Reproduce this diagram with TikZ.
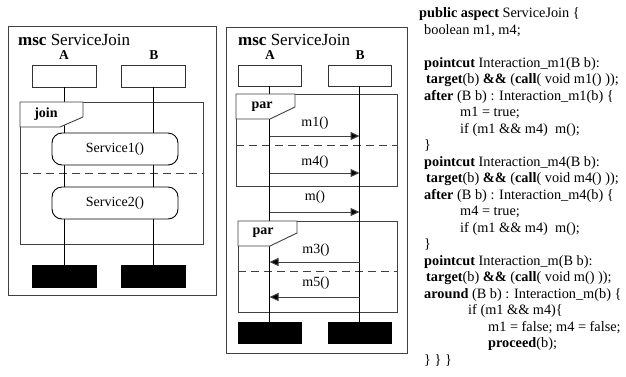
\documentclass[tikz,border=0pt]{standalone}
\usepackage{fontspec}
\setmainfont{Liberation Serif}
\usetikzlibrary{arrows.meta}
\begin{document}
\begin{tikzpicture}[x=1pt,y=-1pt,
  frm/.style={draw=black!75,line width=0.9pt},
  hbox/.style={draw=black!80,line width=0.9pt,fill=white,minimum width=64pt,minimum height=22pt,inner sep=0pt},
  ebox/.style={fill=black,draw=black,minimum width=64pt,minimum height=22pt,inner sep=0pt},
  life/.style={draw=black,line width=0.9pt},
  svc/.style={draw=black,line width=0.9pt,fill=white,rounded corners=10pt,minimum width=126pt,minimum height=32pt,inner sep=0pt,font=\fontsize{14}{16}\selectfont},
  msg/.style={draw=black!75,line width=1pt,-{Triangle[length=9pt,width=8pt,fill=black]}},
  sep/.style={draw=black!75,line width=0.9pt,dash pattern=on 8pt off 5pt},
  tag/.style={draw=black!75,line width=0.9pt,fill=white},
  title/.style={font=\fontsize{17}{20}\selectfont,anchor=west,inner sep=0pt},
  inst/.style={font=\fontsize{13.5}{15}\selectfont\bfseries,inner sep=0pt},
  lbl/.style={font=\fontsize{14}{16}\selectfont,inner sep=0pt},
  code/.style={font=\fontsize{14.3}{16}\selectfont,anchor=base west,inner sep=0pt}]
\useasboundingbox (0,0) rectangle (626,376);
% ---------- left diagram ----------
\draw[frm] (8,26) rectangle (216,295);
\node[title] (t1) at (18,40) {\textbf{msc} ServiceJoin};
\node[inst] (nA1) at (64,55) {A};
\node[inst] (nB1) at (154,55) {B};
\draw[frm] (20,102) rectangle (203,244);
\draw[sep] (20,173) -- (203,173);
\node[hbox] (hA1) at (64,76) {};
\node[hbox] (hB1) at (153.5,76) {};
\node[ebox] (eA1) at (64,276) {};
\node[ebox] (eB1) at (153.5,276) {};
\draw[life] (hA1.south) -- (eA1.north);
\draw[life] (hB1.south) -- (eB1.north);
\draw[tag] (20,102) -- (83,102) -- (83,117) -- (60,127) -- (20,127) -- cycle;
\node[lbl,font=\fontsize{14}{16}\selectfont\bfseries] (jn) at (46,114.5) {join};
\node[svc] (s1) at (115,149) {Service1()};
\node[svc] (s2) at (115,203) {Service2()};
% ---------- middle diagram ----------
\draw[frm] (226,27) rectangle (407,353);
\node[title] (t2) at (238,40) {\textbf{msc} ServiceJoin};
\node[inst] (nA2) at (270,55) {A};
\node[inst] (nB2) at (360,55) {B};
\draw[frm] (236,94) rectangle (397,186);
\draw[sep] (236,145) -- (397,145);
\draw[frm] (238,221) rectangle (397,312);
\draw[sep] (238,271) -- (398,271);
\node[hbox,minimum width=63pt,minimum height=21pt] (hA2) at (269.5,75.5) {};
\node[hbox,minimum width=63pt,minimum height=21pt] (hB2) at (359.5,75.5) {};
\node[ebox,minimum width=63pt,minimum height=21pt] (eA2) at (269.5,332.5) {};
\node[ebox,minimum width=63pt,minimum height=21pt] (eB2) at (359.5,332.5) {};
\draw[life] (hA2.south) -- (eA2.north);
\draw[life] (hB2.south) -- (eB2.north);
\draw[tag] (236,94) -- (295,94) -- (295,107) -- (270,119) -- (236,119) -- cycle;
\node[lbl,font=\fontsize{14}{16}\selectfont\bfseries] (p1) at (262,106.5) {par};
\draw[tag] (238,221) -- (297,221) -- (297,233) -- (270,246) -- (238,246) -- cycle;
\node[lbl,font=\fontsize{14}{16}\selectfont\bfseries] (p2) at (263,233) {par};
\coordinate (a1) at (269.5,136); \coordinate (b1) at (359.5,136);
\coordinate (a2) at (269.5,173); \coordinate (b2) at (359.5,173);
\coordinate (a3) at (269.5,212); \coordinate (b3) at (359.5,212);
\coordinate (a4) at (269.5,262); \coordinate (b4) at (359.5,262);
\coordinate (a5) at (269.5,297); \coordinate (b5) at (359.5,297);
\draw[msg] (a1) -- (b1);
\draw[msg] (a2) -- (b2);
\draw[msg] (a3) -- (b3);
\draw[msg] (b4) -- (a4);
\draw[msg] (b5) -- (a5);
\node[lbl] (l1) at (315,123) {m1()};
\node[lbl] (l2) at (315,162) {m4()};
\node[lbl] (l3) at (315,197) {m()};
\node[lbl] (l4) at (316,250) {m3()};
\node[lbl] (l5) at (316,283) {m5()};
% ---------- code ----------
\node[code] (c0) at (419,17.5) {\textbf{public aspect} ServiceJoin \{};
\node[code] (c1) at (424,34.0) {boolean m1, m4;};
\node[code] (c3) at (424,67.0) {\textbf{pointcut} Interaction\_m1(B b):};
\node[code] (c4) at (426,83.5) {\textbf{target}(b) \textbf{\&\&} (\textbf{call}( void m1() ));};
\node[code] (c5) at (424,100.0) {\textbf{after} (B b) : Interaction\_m1(b) \{};
\node[code] (c6) at (460,116.5) {m1 = true;};
\node[code] (c7) at (460,133.0) {if (m1 \&\& m4)\ \ m();};
\node[code] (c8) at (424,149.5) {\}};
\node[code] (c9) at (424,166.0) {\textbf{pointcut} Interaction\_m4(B b):};
\node[code] (c10) at (426,182.5) {\textbf{target}(b) \textbf{\&\&} (\textbf{call}( void m4() ));};
\node[code] (c11) at (424,199.0) {\textbf{after} (B b) : Interaction\_m4(b) \{};
\node[code] (c12) at (460,215.5) {m4 = true;};
\node[code] (c13) at (460,232.0) {if (m1 \&\& m4)\ \ m();};
\node[code] (c14) at (424,248.5) {\}};
\node[code] (c15) at (424,265.0) {\textbf{pointcut} Interaction\_m(B b):};
\node[code] (c16) at (426,281.5) {\textbf{target}(b) \textbf{\&\&} (\textbf{call}( void m() ));};
\node[code] (c17) at (424,298.0) {\textbf{around} (B b) : Interaction\_m(b) \{};
\node[code] (c18) at (468,314.5) {if (m1 \&\& m4)\{};
\node[code] (c19) at (488,331.0) {m1 = false; m4 = false;};
\node[code] (c20) at (488,347.5) {\textbf{proceed}(b);};
\node[code] (c21) at (424,364.0) {\} \} \}};
\end{tikzpicture}
\end{document}
